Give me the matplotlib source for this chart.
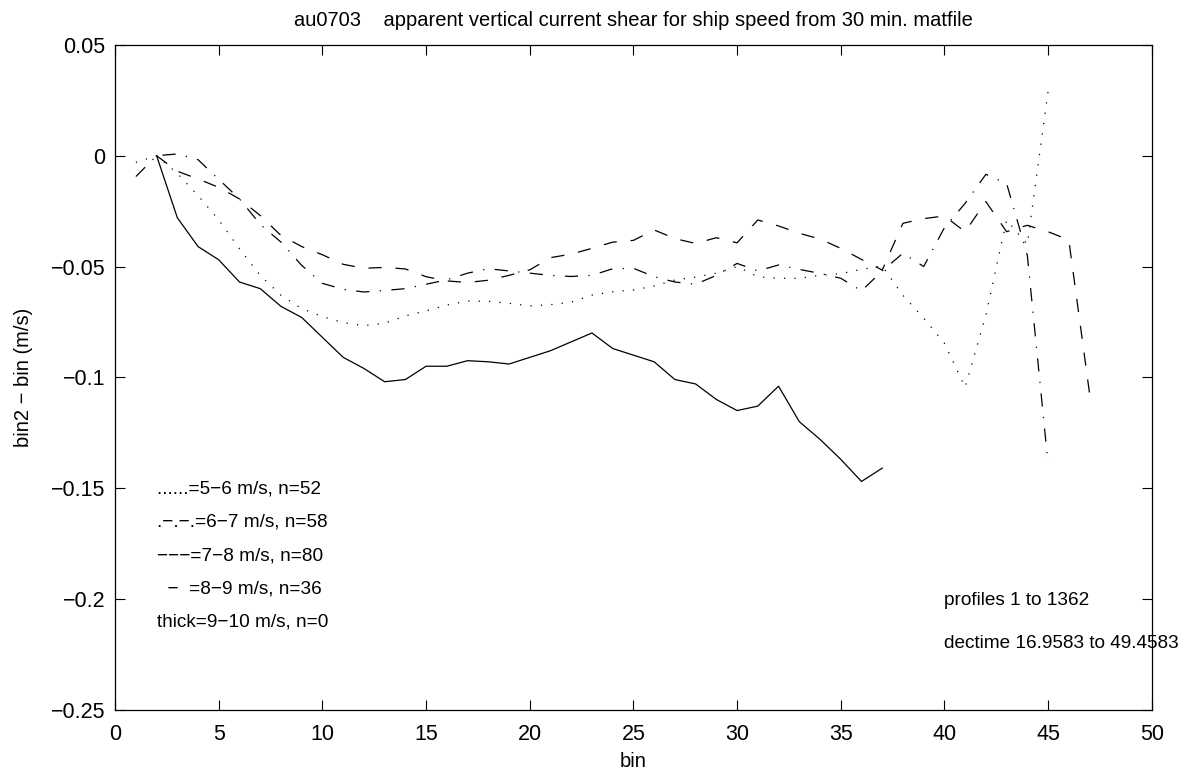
import matplotlib
matplotlib.use("Agg")
import matplotlib.pyplot as plt
from matplotlib.ticker import FuncFormatter

plt.rcParams['font.family'] = ['Liberation Sans', 'DejaVu Sans']
plt.rcParams['lines.scale_dashes'] = False

# --- data (bin2 - bin, m/s) ---
bins_56 = list(range(1, 46))
shear_56 = [-0.003, 0.0, -0.008, -0.018, -0.029, -0.042, -0.054, -0.063, -0.069, -0.0726,
            -0.0753, -0.0767, -0.0756, -0.0723, -0.070, -0.0674, -0.0656, -0.0657, -0.0666, -0.0678,
            -0.0672, -0.0661, -0.0629, -0.0614, -0.0606, -0.0588, -0.0561, -0.0548, -0.053, -0.050,
            -0.0546, -0.0553, -0.0553, -0.054, -0.0532, -0.0513, -0.0498, -0.063, -0.0733, -0.0846,
            -0.1045, -0.072, -0.029, -0.040, 0.029]

bins_67 = list(range(1, 46))
shear_67 = [-0.0094, 0.0, 0.0008, -0.0018, -0.0107, -0.0195, -0.031, -0.039, -0.0495, -0.0576,
            -0.0603, -0.0615, -0.0608, -0.060, -0.058, -0.056, -0.053, -0.051, -0.052, -0.053,
            -0.054, -0.0545, -0.054, -0.051, -0.0508, -0.0546, -0.057, -0.058, -0.054, -0.0486,
            -0.052, -0.0493, -0.0513, -0.0531, -0.0553, -0.061, -0.052, -0.044, -0.050, -0.0325,
            -0.0215, -0.0084, -0.0125, -0.045, -0.139]

bins_78 = list(range(2, 48))
shear_78 = [0.0, -0.007, -0.0105, -0.0143, -0.0195, -0.027, -0.036, -0.041, -0.0447, -0.049,
            -0.0508, -0.0504, -0.0511, -0.0546, -0.0565, -0.0572, -0.0562, -0.054, -0.0515, -0.046,
            -0.0444, -0.0418, -0.039, -0.0382, -0.0335, -0.0374, -0.0396, -0.037, -0.0393, -0.029,
            -0.0317, -0.035, -0.0376, -0.0418, -0.0468, -0.0516, -0.0305, -0.0284, -0.0272, -0.0343,
            -0.0207, -0.0343, -0.0314, -0.0343, -0.038, -0.1072]

bins_89 = list(range(2, 38))
shear_89 = [0.0, -0.028, -0.041, -0.047, -0.057, -0.060, -0.068, -0.073, -0.082, -0.091,
            -0.096, -0.102, -0.101, -0.095, -0.095, -0.0925, -0.093, -0.094, -0.091, -0.088,
            -0.084, -0.080, -0.087, -0.090, -0.093, -0.101, -0.103, -0.110, -0.115, -0.113,
            -0.104, -0.120, -0.128, -0.137, -0.147, -0.141]

key_labels = ["......=5\u22126 m/s, n=52",
              ".\u2212.\u2212.=6\u22127 m/s, n=58",
              "\u2212\u2212\u2212=7\u22128 m/s, n=80",
              "  \u2212  =8\u22129 m/s, n=36",
              "thick=9\u221210 m/s, n=0"]
info_lines = ["profiles 1 to 1362", "dectime 16.9583 to 49.4583"]

fig = plt.figure(figsize=(11.92, 7.77), dpi=100)
ax = fig.add_axes([0.0966, 0.0866, 0.8696, 0.8556])

lw = 0.9
ax.plot(bins_56, shear_56, color='k', lw=lw, linestyle=(0, (0.9, 6.6)))
ax.plot(bins_67, shear_67, color='k', lw=lw, linestyle=(0, (9.5, 7.5, 0.9, 7.5)))
ax.plot(bins_78, shear_78, color='k', lw=lw, linestyle=(0, (9.5, 10)))
ax.plot(bins_89, shear_89, color='k', lw=lw, linestyle='-')

ax.set_xlim(0, 50)
ax.set_ylim(-0.25, 0.05)
ax.set_xticks(range(0, 51, 5))
ax.set_yticks([-0.25, -0.2, -0.15, -0.1, -0.05, 0, 0.05])
ax.yaxis.set_major_formatter(FuncFormatter(lambda v, p: ('%g' % round(v, 3)).replace('-', '\u2212')))
ax.tick_params(direction='in', length=7, width=0.8, labelsize=15.5,
               top=True, right=True, pad=7)
ax.tick_params(axis='x', pad=10)
for s in ax.spines.values():
    s.set_linewidth(0.9)

ax.set_title("au0703    apparent vertical current shear for ship speed from 30 min. matfile",
             fontsize=14.5, pad=13.5)
ax.set_xlabel("bin", fontsize=14.5, labelpad=5)
ax.set_ylabel("bin2 \u2212 bin (m/s)", fontsize=14.5, labelpad=13)

for i, t in enumerate(key_labels):
    ax.text(2, -0.1505 - 0.0150 * i, t, fontsize=13.7, va='center', ha='left')
for i, t in enumerate(info_lines):
    ax.text(40, -0.2005 - 0.0195 * i, t, fontsize=13.7, va='center', ha='left', clip_on=False)

fig.savefig("out.png", dpi=100)
